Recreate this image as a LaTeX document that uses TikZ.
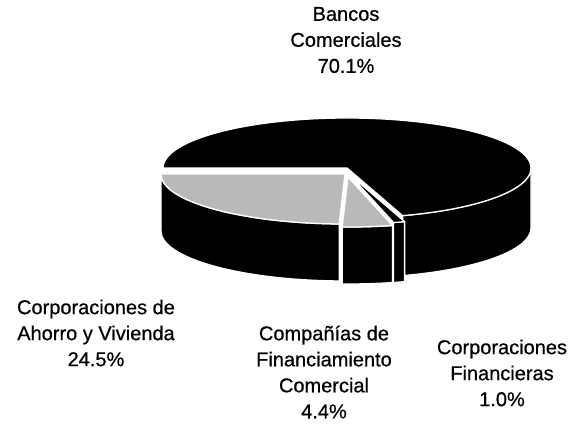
\documentclass[tikz,border=0pt]{standalone}
\usepackage{fontspec}
\newfontfamily\lblfont[FakeBold=0.6]{Liberation Sans}
\usetikzlibrary{calc}
\begin{document}
\begin{tikzpicture}[x=1pt,y=1pt,
  slice/.style={fill=black,draw=white,line width=1.3pt,line join=round},
  topgray/.style={fill=gray!55,draw=white,line width=1.3pt,line join=round},
  lbl/.style={align=center,font=\lblfont\fontsize{20}{26}\selectfont,inner sep=0pt},
  el/.style={x radius=184,y radius=50}]
\useasboundingbox (0,0) rectangle (571,432);
\fill[white] (0,0) rectangle (571,432);
\coordinate (C) at (347,264);
\coordinate (Cg) at (345,258);
\coordinate (Cf) at (348,255);
\coordinate (Ck) at (349,258);
% Bancos Comerciales 70.1%
\path[slice] ($(C)+(-72.4:184 and 50)$) arc[el,start angle=-72.4,end angle=0]
  -- ++(0,-60) arc[el,start angle=0,end angle=-72.4] -- cycle;
\path[slice] (C) -- ($(C)+(-72.4:184 and 50)$) arc[el,start angle=-72.4,end angle=180] -- cycle;
% Corporaciones Financieras 1.0%
\path[slice] ($(Ck)+(-76:184 and 50)$) arc[el,start angle=-76,end angle=-72.4]
  -- ++(0,-60) arc[el,start angle=-72.4,end angle=-76] -- cycle;
\path[slice] (Ck) -- ($(Ck)+(-76:184 and 50)$) arc[el,start angle=-76,end angle=-72.4] -- cycle;
% Companias de Financiamiento Comercial 4.4%
\path[slice] ($(Cf)+(-91.8:184 and 50)$) arc[el,start angle=-91.8,end angle=-76]
  -- ++(0,-57) arc[el,start angle=-76,end angle=-91.8] -- cycle;
\path[topgray] (Cf) -- ($(Cf)+(-91.8:184 and 50)$) arc[el,start angle=-91.8,end angle=-76] -- cycle;
% Corporaciones de Ahorro y Vivienda 24.5%
\path[slice] ($(Cg)+(180:184 and 50)$) arc[el,start angle=180,end angle=268.2]
  -- ++(0,-57) arc[el,start angle=268.2,end angle=180] -- cycle;
\path[topgray] (Cg) -- ($(Cg)+(180:184 and 50)$) arc[el,start angle=180,end angle=268.2] -- cycle;
% labels
\node[lbl] (lb) at (346,392) {Bancos\\Comerciales\\70.1\%};
\node[lbl] (la) at (96,99) {Corporaciones de\\Ahorro y Vivienda\\24.5\%};
\node[lbl] (lc) at (324,60) {Compañías de\\Financiamiento\\Comercial\\4.4\%};
\node[lbl] (lf) at (502,59) {Corporaciones\\Financieras\\1.0\%};
\end{tikzpicture}
\end{document}
